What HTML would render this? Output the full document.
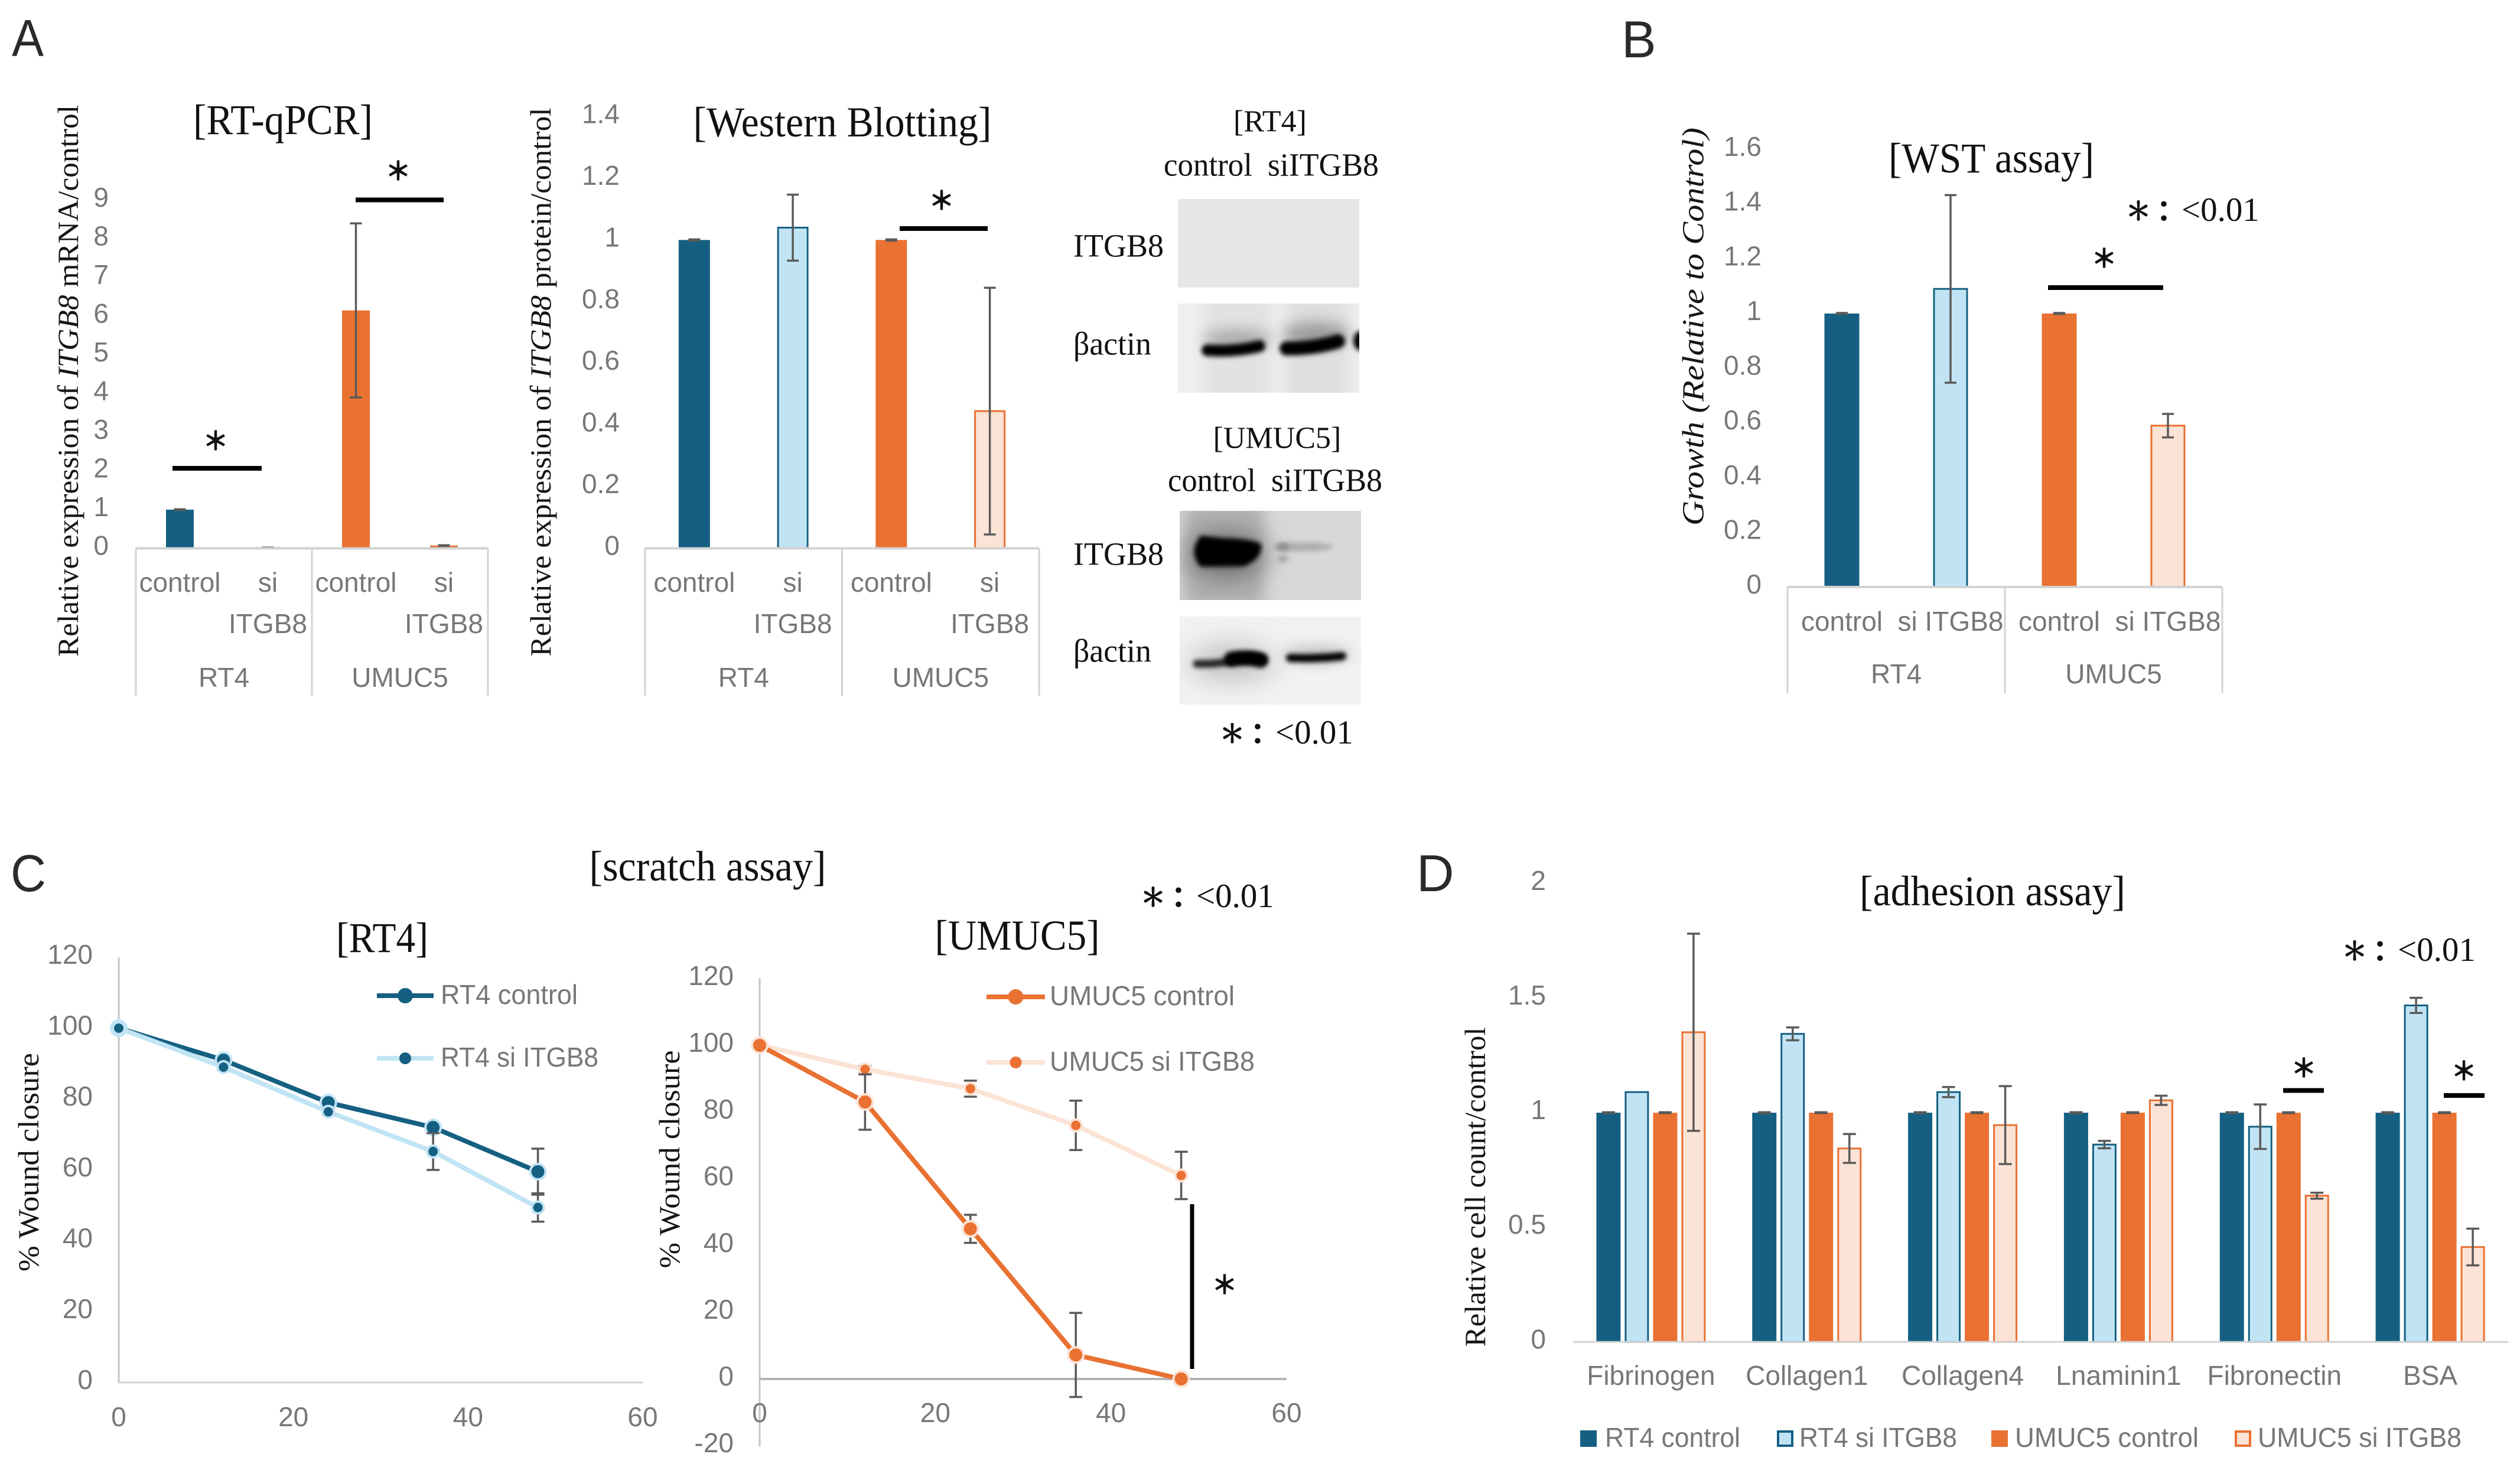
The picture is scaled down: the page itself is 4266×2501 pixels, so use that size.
<!DOCTYPE html>
<html lang="en">
<head>
<meta charset="utf-8">
<title>ITGB8 knockdown figure</title>
<style>
html,body{margin:0;padding:0;background:#fff;width:4266px;height:2501px;overflow:hidden}
svg{display:block}
text{font-family:"Liberation Sans","Noto Sans CJK JP",sans-serif}
.letter{font-family:"Liberation Sans",sans-serif;font-size:88px;fill:#2a2a2a;font-weight:400}
.ylab{font-family:"Liberation Serif",serif;fill:#151515;text-anchor:middle;dominant-baseline:central}
.title{font-family:"Liberation Serif",serif;font-size:72px;fill:#111;text-anchor:middle;dominant-baseline:central}
.blotlab{font-family:"Liberation Serif",serif;font-size:55px;fill:#111;dominant-baseline:central}
.pval{dominant-baseline:central;fill:#111}
.pstar{font-family:"Noto Serif CJK SC",serif;font-size:42px;stroke:#111;stroke-width:2px;text-anchor:middle}
.pcolon{font-family:"Noto Sans CJK JP",sans-serif;font-size:50px;font-weight:700;text-anchor:middle}
.pnum{font-family:"Liberation Serif",serif;font-size:57px;text-anchor:start}
</style>
</head>
<body>
<svg id="fig" xmlns="http://www.w3.org/2000/svg" width="4266" height="2501" viewBox="0 0 4266 2501">
<defs>
<filter id="b3" filterUnits="userSpaceOnUse" x="1900" y="300" width="500" height="950"><feGaussianBlur stdDeviation="4"/></filter>
<filter id="b10" filterUnits="userSpaceOnUse" x="1900" y="300" width="500" height="950"><feGaussianBlur stdDeviation="12"/></filter>
<filter id="b25" filterUnits="userSpaceOnUse" x="1900" y="300" width="500" height="950"><feGaussianBlur stdDeviation="24"/></filter>
<clipPath id="c-act1"><rect x="1994" y="514" width="307" height="151"/></clipPath>
<clipPath id="c-itg2"><rect x="1997" y="865" width="307" height="151"/></clipPath>
<clipPath id="c-act2"><rect x="1997" y="1044" width="307" height="149"/></clipPath>
</defs>

<text class="letter" x="20" y="95" textLength="54" lengthAdjust="spacingAndGlyphs">A</text>
<text class="letter" x="2745" y="97">B</text>
<text class="letter" x="18" y="1509" textLength="60" lengthAdjust="spacingAndGlyphs">C</text>
<text class="letter" x="2398" y="1509">D</text>

<text class="title" x="479" y="203" textLength="304" lengthAdjust="spacingAndGlyphs">[RT-qPCR]</text>
<text class="title" x="1426" y="207" textLength="505" lengthAdjust="spacingAndGlyphs">[Western Blotting]</text>
<text class="title" x="3371" y="268" textLength="348" lengthAdjust="spacingAndGlyphs">[WST assay]</text>
<text class="title" x="1198" y="1467" textLength="401" lengthAdjust="spacingAndGlyphs">[scratch assay]</text>
<text class="title" x="647" y="1588" textLength="156" lengthAdjust="spacingAndGlyphs">[RT4]</text>
<text class="title" x="1722" y="1584" textLength="279" lengthAdjust="spacingAndGlyphs">[UMUC5]</text>
<text class="title" x="3373" y="1509" textLength="450" lengthAdjust="spacingAndGlyphs">[adhesion assay]</text>

<text class="ylab" font-size="50" transform="translate(115 645) rotate(-90)" textLength="934" lengthAdjust="spacingAndGlyphs">Relative expression of <tspan font-style="italic">ITGB8</tspan> mRNA/control</text>
<text class="ylab" font-size="50" transform="translate(915 647) rotate(-90)" textLength="929" lengthAdjust="spacingAndGlyphs">Relative expression of <tspan font-style="italic">ITGB8</tspan> protein/control</text>
<text class="ylab" font-size="52" font-style="italic" transform="translate(2867 553) rotate(-90)" textLength="674" lengthAdjust="spacingAndGlyphs">Growth (Relative to Control)</text>
<text class="ylab" font-size="50" transform="translate(48 1968) rotate(-90)" textLength="370" lengthAdjust="spacingAndGlyphs">% Wound closure</text>
<text class="ylab" font-size="50" transform="translate(1133 1963) rotate(-90)" textLength="369" lengthAdjust="spacingAndGlyphs">% Wound closure</text>
<text class="ylab" font-size="50" transform="translate(2497 2010) rotate(-90)" textLength="541" lengthAdjust="spacingAndGlyphs">Relative cell count/control</text>

<text class="pval" y="1240"><tspan class="pstar" x="2086">＊</tspan><tspan class="pcolon" x="2129">：</tspan><tspan class="pnum" x="2159">&lt;0.01</tspan></text>
<text class="pval" y="355"><tspan class="pstar" x="3620">＊</tspan><tspan class="pcolon" x="3663">：</tspan><tspan class="pnum" x="3693">&lt;0.01</tspan></text>
<text class="pval" y="1517"><tspan class="pstar" x="1952">＊</tspan><tspan class="pcolon" x="1995">：</tspan><tspan class="pnum" x="2025">&lt;0.01</tspan></text>
<text class="pval" y="1608"><tspan class="pstar" x="3986">＊</tspan><tspan class="pcolon" x="4029">：</tspan><tspan class="pnum" x="4059">&lt;0.01</tspan></text>

<g>
  <text class="blotlab" x="2150" y="206" text-anchor="middle" style="font-size:52px">[RT4]</text>
  <text class="blotlab" x="1970" y="279" textLength="150" lengthAdjust="spacingAndGlyphs">control</text>
  <text class="blotlab" x="2146" y="279" textLength="188" lengthAdjust="spacingAndGlyphs">siITGB8</text>
  <text class="blotlab" x="1817" y="416" textLength="153" lengthAdjust="spacingAndGlyphs">ITGB8</text>
  <text class="blotlab" x="1817" y="582" textLength="132" lengthAdjust="spacingAndGlyphs">βactin</text>
  <rect x="1994" y="337" width="307" height="150" fill="#e6e6e6"/>
  <g clip-path="url(#c-act1)">
    <rect x="1994" y="514" width="307" height="151" fill="#efefef"/>
    <rect x="2036" y="500" width="115" height="180" fill="#e2e2e2" filter="url(#b10)"/>
    <rect x="2176" y="500" width="106" height="180" fill="#dedede" filter="url(#b10)"/>
    <ellipse cx="2095" cy="574" rx="58" ry="16" fill="#a8a8a8" filter="url(#b10)"/>
    <ellipse cx="2228" cy="566" rx="56" ry="20" fill="#9a9a9a" filter="url(#b10)"/>
    <path d="M2044 593 Q2090 596 2132 586" stroke="#050505" stroke-width="20" stroke-linecap="round" fill="none" filter="url(#b3)"/>
    <path d="M2178 590 Q2225 590 2265 578" stroke="#050505" stroke-width="24" stroke-linecap="round" fill="none" filter="url(#b3)"/>
    <ellipse cx="2304" cy="577" rx="13" ry="17" fill="#050505" filter="url(#b3)"/>
  </g>
  <text class="blotlab" x="2162" y="742" text-anchor="middle" style="font-size:52px">[UMUC5]</text>
  <text class="blotlab" x="1977" y="813" textLength="149" lengthAdjust="spacingAndGlyphs">control</text>
  <text class="blotlab" x="2152" y="813" textLength="188" lengthAdjust="spacingAndGlyphs">siITGB8</text>
  <text class="blotlab" x="1817" y="938" textLength="153" lengthAdjust="spacingAndGlyphs">ITGB8</text>
  <text class="blotlab" x="1817" y="1102" textLength="132" lengthAdjust="spacingAndGlyphs">βactin</text>
  <g clip-path="url(#c-itg2)">
    <rect x="1997" y="865" width="307" height="151" fill="#d8d8d8"/>
    <rect x="2005" y="850" width="135" height="180" fill="#b2b2b2" filter="url(#b10)"/>
    <ellipse cx="2075" cy="940" rx="66" ry="38" fill="#6a6a6a" filter="url(#b25)"/>
    <path d="M2035 912 Q2018 935 2035 955 L2105 954 Q2132 942 2130 924 Q2115 917 2070 916 Z" fill="#030303" stroke="#030303" stroke-width="10" filter="url(#b3)"/>
    <ellipse cx="2205" cy="926" rx="52" ry="8" fill="#aeaeae" filter="url(#b3)"/>
    <ellipse cx="2172" cy="926" rx="11" ry="7" fill="#909090" filter="url(#b3)"/>
    <ellipse cx="2172" cy="946" rx="9" ry="6" fill="#a4a4a4" filter="url(#b3)"/>
  </g>
  <g clip-path="url(#c-act2)">
    <rect x="1997" y="1044" width="307" height="149" fill="#f2f2f2"/>
    <ellipse cx="2085" cy="1122" rx="72" ry="28" fill="#bcbcbc" filter="url(#b25)"/>
    <ellipse cx="2230" cy="1108" rx="58" ry="14" fill="#c0c0c0" filter="url(#b10)"/>
    <path d="M2026 1124 Q2070 1125 2095 1116 Q2125 1110 2138 1116" stroke="#202020" stroke-width="13" stroke-linecap="round" fill="none" filter="url(#b3)"/>
    <path d="M2085 1116 Q2115 1112 2134 1118" stroke="#030303" stroke-width="26" stroke-linecap="round" fill="none" filter="url(#b3)"/>
    <path d="M2184 1114 Q2230 1116 2272 1111" stroke="#050505" stroke-width="14" stroke-linecap="round" fill="none" filter="url(#b3)"/>
  </g>
</g>
<g id="charts"></g>
</svg>

<script>
// ---------- chart data ----------
const barCategories = ['control', 'si ITGB8', 'control', 'si ITGB8'];
const barGroups = ['RT4', 'UMUC5'];

const qpcrTicks = [0, 1, 2, 3, 4, 5, 6, 7, 8, 9];
const qpcrValues = [1, 0.01, 6.15, 0.05];
const qpcrErrors = [0.01, 0.01, 2.25, 0.03];

const westernTicks = [0, 0.2, 0.4, 0.6, 0.8, 1, 1.2, 1.4];
const westernValues = [1, 1.04, 1, 0.445];
const westernErrors = [0.002, 0.107, 0.002, 0.4];

const wstTicks = [0, 0.2, 0.4, 0.6, 0.8, 1, 1.2, 1.4, 1.6];
const wstValues = [1, 1.09, 1, 0.59];
const wstErrors = [0.002, 0.343, 0.002, 0.043];

const timeTicks = [0, 20, 40, 60];
const timePoints = [0, 12, 24, 36, 48];

const woundTicksRT4 = [0, 20, 40, 60, 80, 100, 120];
const rt4ControlValues = [100, 91, 79, 72, 59.5];
const rt4ControlErrors = [0, 0.8, 0.8, 1.2, 6.5];
const rt4SiValues = [100, 89, 76.4, 65.2, 49.4];
const rt4SiErrors = [0, 0.8, 0.8, 5.2, 4];

const woundTicksUMUC5 = [-20, 0, 20, 40, 60, 80, 100, 120];
const umucControlValues = [100, 83, 45, 7.2, 0];
const umucControlErrors = [0, 8.3, 4.2, 12.6, 0.5];
const umucSiValues = [100, 92.8, 87, 76, 61];
const umucSiErrors = [0, 1, 2.4, 7.4, 7.1];

const adhesionCategories = ['Fibrinogen', 'Collagen1', 'Collagen4', 'Lnaminin1', 'Fibronectin', 'BSA'];
const adhesionTicks = [0, 0.5, 1, 1.5, 2];
const adhesionSeriesNames = ['RT4 control', 'RT4 si ITGB8', 'UMUC5 control', 'UMUC5 si ITGB8'];
const adhesionRT4Control = [1, 1, 1, 1, 1, 1];
const adhesionRT4Si = [1.09, 1.344, 1.09, 0.861, 0.939, 1.468];
const adhesionUMUC5Control = [1, 1, 1, 1, 1, 1];
const adhesionUMUC5Si = [1.351, 0.844, 0.946, 1.054, 0.638, 0.414];
const adhesionRT4ControlErr = [0.002, 0.002, 0.002, 0.002, 0.002, 0.002];
const adhesionRT4SiErr = [0, 0.028, 0.022, 0.016, 0.097, 0.033];
const adhesionUMUC5ControlErr = [0.002, 0.002, 0.002, 0.002, 0.002, 0.002];
const adhesionUMUC5SiErr = [0.43, 0.063, 0.17, 0.02, 0.013, 0.08];

// ---------- drawing helpers ----------
const NS = 'http://www.w3.org/2000/svg';
const root = document.getElementById('charts');
const DARK = '#156082', LIGHT = '#c1e4f5', ORANGE = '#e97132', PEACH = '#fbe3d6';
const FILLS = [DARK, LIGHT, ORANGE, PEACH];
const STROKES = [DARK, DARK, ORANGE, ORANGE];
const TICK = '#777777', AXIS = '#d2d2d2', WHISK = '#5a5a5a';
const TICK_LIFT = 5;

function svgEl(tag, attrs, parent, text) {
  const e = document.createElementNS(NS, tag);
  for (const k in attrs) e.setAttribute(k, attrs[k]);
  if (text !== undefined) e.textContent = text;
  parent.appendChild(e);
  return e;
}
function linear(d0, d1, p0, p1) {
  return v => p0 + (v - d0) * (p1 - p0) / (d1 - d0);
}
function band(x0, x1, n) {
  const w = (x1 - x0) / n;
  return i => x0 + w * (i + 0.5);
}
function newGroup(name) {
  const g = svgEl('g', {}, root);
  
  
  return g;
}
function tickText(g, prefix, x, y, anchor, label) {
  const t = svgEl('text', {x: x, y: y, 'text-anchor': anchor, 'dominant-baseline': 'central', 'font-size': 46, fill: TICK}, g, String(label));
  
  
  return t;
}
function whisker(g, name, x, yTop, yBot, cap) {
  const s = svgEl('path', {d: 'M' + (x - cap) + ' ' + yTop + 'H' + (x + cap) + 'M' + x + ' ' + yTop + 'V' + yBot + 'M' + (x - cap) + ' ' + yBot + 'H' + (x + cap), stroke: WHISK, 'stroke-width': 3.5, fill: 'none'}, g);
  
  
}
function asterisk(g, name, ax, ay) {
  const a = svgEl('text', {x: ax, y: ay, 'text-anchor': 'middle', 'dominant-baseline': 'central', 'font-size': 42, fill: '#111', stroke: '#111', 'stroke-width': 2, 'font-family': '"Noto Serif CJK SC",serif'}, g, '＊');
  
  
}
function sigMark(g, name, x1, x2, y, ax, ay) {
  const l = svgEl('rect', {x: Math.min(x1, x2), y: y - 4, width: Math.abs(x2 - x1), height: 8, fill: '#000'}, g);
  
  
  asterisk(g, name + '-asterisk', ax, ay);
}

function drawBarChart(name, values, errors, ticks, box) {
  const g = newGroup(name + '-chart');
  const y = linear(ticks[0], ticks[ticks.length - 1], box.y0, box.y1);
  const x = band(box.x0, box.x1, values.length);
  ticks.forEach(t => tickText(g, name + '-y', box.tickX, y(t) - TICK_LIFT, 'end', t));
  values.forEach((v, i) => {
    const inset = FILLS[i] === LIGHT || FILLS[i] === PEACH ? 1.5 : 0;
    const r = svgEl('rect', {x: x(i) - box.bw / 2 + inset, y: y(v), width: box.bw - 2 * inset, height: Math.max(0, y(0) - y(v)), fill: FILLS[i], stroke: inset ? STROKES[i] : 'none', 'stroke-width': 3}, g);
    
    
  });
  errors.forEach((e, i) => whisker(g, name + '-error-' + i, x(i), y(values[i] + e), y(Math.max(0, values[i] - e)), 10));
  const ax = svgEl('path', {d: 'M' + box.x0 + ' ' + y(0) + 'H' + box.x1, stroke: AXIS, 'stroke-width': 4, fill: 'none'}, g);
  
  
  barCategories.forEach((c, i) => {
    if (box.wrap && c.indexOf(' ') > 0) {
      const parts = c.split(' ');
      tickText(g, name + '-x-upper', x(i), box.labelY, 'middle', parts[0]);
      tickText(g, name + '-x-lower', x(i), box.labelY2, 'middle', parts[1]);
    } else {
      tickText(g, name + '-x-' + i, x(i), box.labelY, 'middle', c);
    }
  });
  const step = (box.x1 - box.x0) / 2;
  barGroups.forEach((c, i) => tickText(g, name + '-group', box.x0 + step * (i + 0.5), box.groupY, 'middle', c));
  [0, 1, 2].forEach(i => {
    const d = svgEl('path', {d: 'M' + (box.x0 + step * i) + ' ' + y(0) + 'V' + box.bottom, stroke: AXIS, 'stroke-width': 3, fill: 'none'}, g);
    
    
  });
  return g;
}

function drawLineSeries(g, name, xs, ys, errs, x, y, st) {
  const path = svgEl('polyline', {points: xs.map((t, i) => x(t) + ',' + y(ys[i])).join(' '), fill: 'none', stroke: st.line, 'stroke-width': st.width, 'stroke-linejoin': 'round'}, g);
  
  
  errs.forEach((e, i) => {
    if (e > 0) whisker(g, name + '-error-' + i, x(xs[i]), y(ys[i] + e), y(ys[i] - e), 11);
  });
  xs.forEach((t, i) => {
    const c = svgEl('circle', {cx: x(t), cy: y(ys[i]), r: st.r, fill: st.marker, stroke: st.halo, 'stroke-width': 4}, g);
    
    
  });
}
function lineLegend(g, name, label, x0, x1, yc, tx, tw, st) {
  const l = svgEl('line', {x1: x0, x2: x1, y1: yc, y2: yc, stroke: st.line, 'stroke-width': st.width}, g);
  
  
  const c = svgEl('circle', {cx: (x0 + x1) / 2, cy: yc, r: st.r, fill: st.marker}, g);
  
  
  const t = svgEl('text', {x: tx, y: yc - 2, 'dominant-baseline': 'central', 'font-size': 46, fill: TICK, textLength: tw, lengthAdjust: 'spacingAndGlyphs'}, g, label);
  
  
}
function lineAxes(g, name, xTicks, yTicks, x, y, box) {
  const yA = svgEl('line', {x1: x(0), x2: x(0), y1: box.yTop, y2: box.yBottom, stroke: '#c4c4c4', 'stroke-width': 3}, g);
  
  
  const xA = svgEl('line', {x1: x(0), x2: x(xTicks[xTicks.length - 1]), y1: y(0), y2: y(0), stroke: box.xColor, 'stroke-width': box.xWidth}, g);
  
  
  yTicks.forEach(t => tickText(g, name + '-y', box.tickX, y(t) - TICK_LIFT, 'end', t));
  xTicks.forEach(t => tickText(g, name + '-x', x(t), box.labelY, 'middle', t));
}

// ---------- panel A / B bar charts ----------
const gQ = drawBarChart('qpcr', qpcrValues, qpcrErrors, qpcrTicks, {x0: 230, x1: 826, y0: 928.5, y1: 339, bw: 47, tickX: 184, labelY: 986, labelY2: 1056, groupY: 1147, bottom: 1178, wrap: true});
sigMark(gQ, 'qpcr-sig-rt4', 292, 443, 793, 365, 747);
sigMark(gQ, 'qpcr-sig-umuc5', 602, 751, 338.5, 674, 290);

const gW = drawBarChart('western', westernValues, westernErrors, westernTicks, {x0: 1092, x1: 1759, y0: 928.5, y1: 197.5, bw: 53, tickX: 1049, labelY: 986, labelY2: 1056, groupY: 1147, bottom: 1178, wrap: true});
sigMark(gW, 'western-sig-umuc5', 1523, 1672, 387, 1594, 340);

const gB = drawBarChart('wst', wstValues, wstErrors, wstTicks, {x0: 3026, x1: 3762, y0: 994, y1: 253, bw: 59, tickX: 2982, labelY: 1052, labelY2: 1052, groupY: 1141, bottom: 1174, wrap: false});
sigMark(gB, 'wst-sig-umuc5', 3467, 3662, 487, 3562, 438);

// ---------- panel C line charts ----------
const gC1 = newGroup('scratch-rt4-chart');
const xC1 = linear(0, 60, 201, 1088);
const yC1 = linear(0, 120, 2341, 1621);
const rt4CtlStyle = {line: DARK, width: 8, r: 13, marker: DARK, halo: LIGHT};
const rt4SiStyle = {line: LIGHT, width: 8, r: 10, marker: DARK, halo: LIGHT};
lineAxes(gC1, 'scratch-rt4', timeTicks, woundTicksRT4, xC1, yC1, {yTop: 1621, yBottom: 2341, tickX: 157, labelY: 2399, xColor: AXIS, xWidth: 3});
drawLineSeries(gC1, 'rt4-control', timePoints, rt4ControlValues, rt4ControlErrors, xC1, yC1, rt4CtlStyle);
drawLineSeries(gC1, 'rt4-si-itgb8', timePoints, rt4SiValues, rt4SiErrors, xC1, yC1, rt4SiStyle);
lineLegend(gC1, 'rt4-control', 'RT4 control', 638, 734, 1686, 746, 232, rt4CtlStyle);
lineLegend(gC1, 'rt4-si-itgb8', 'RT4 si ITGB8', 638, 734, 1792, 746, 267, rt4SiStyle);

const gC2 = newGroup('scratch-umuc5-chart');
const xC2 = linear(0, 60, 1286, 2178);
const yC2 = linear(-20, 120, 2448, 1657);
const umCtlStyle = {line: ORANGE, width: 8, r: 13, marker: ORANGE, halo: PEACH};
const umSiStyle = {line: PEACH, width: 8, r: 10, marker: ORANGE, halo: PEACH};
lineAxes(gC2, 'scratch-umuc5', timeTicks, woundTicksUMUC5, xC2, yC2, {yTop: 1656, yBottom: 2449, tickX: 1242, labelY: 2392, xColor: '#b4b4b4', xWidth: 4});
drawLineSeries(gC2, 'umuc5-si-itgb8', timePoints, umucSiValues, umucSiErrors, xC2, yC2, umSiStyle);
drawLineSeries(gC2, 'umuc5-control', timePoints, umucControlValues, umucControlErrors, xC2, yC2, umCtlStyle);
lineLegend(gC2, 'umuc5-control', 'UMUC5 control', 1670, 1769, 1688, 1777, 313, umCtlStyle);
lineLegend(gC2, 'umuc5-si-itgb8', 'UMUC5 si ITGB8', 1670, 1769, 1799, 1777, 347, umSiStyle);
const sigV = svgEl('line', {x1: 2018, x2: 2018, y1: 2039, y2: 2318, stroke: '#000', 'stroke-width': 7}, gC2);


asterisk(gC2, 'scratch-sig-asterisk', 2073, 2176);

// ---------- panel D grouped bars ----------
const gD = newGroup('adhesion-chart');
const yD = linear(0, 2, 2272.3, 1496);
const xD = band(2663, 4246, adhesionCategories.length);
const dSeries = [adhesionRT4Control, adhesionRT4Si, adhesionUMUC5Control, adhesionUMUC5Si];
const dErrors = [adhesionRT4ControlErr, adhesionRT4SiErr, adhesionUMUC5ControlErr, adhesionUMUC5SiErr];
const barStep = 48, barW = 41;
adhesionTicks.forEach(t => tickText(gD, 'adhesion-y', 2617, yD(t) - TICK_LIFT, 'end', t));
adhesionCategories.forEach((c, i) => {
  tickText(gD, 'adhesion-x', xD(i), 2329, 'middle', c);
  dSeries.forEach((s, k) => {
    const cx = xD(i) + (k - 1.5) * barStep;
    const inset = k % 2 ? 1.5 : 0;
    const r = svgEl('rect', {x: cx - barW / 2 + inset, y: yD(s[i]), width: barW - 2 * inset, height: yD(0) - yD(s[i]), fill: FILLS[k], stroke: inset ? STROKES[k] : 'none', 'stroke-width': 3}, gD);
    
    
    if (dErrors[k][i] > 0) {
      whisker(gD, 'adhesion-error-' + c.toLowerCase() + '-' + k, cx, yD(s[i] + dErrors[k][i]), yD(s[i] - dErrors[k][i]), 11);
    }
  });
});
const axD = svgEl('line', {x1: 2663, x2: 4246, y1: yD(0), y2: yD(0), stroke: AXIS, 'stroke-width': 3}, gD);


sigMark(gD, 'adhesion-sig-fibronectin', 3865, 3934, 1846.5, 3900, 1809);
sigMark(gD, 'adhesion-sig-bsa', 4137, 4206, 1855, 4171, 1814);

// legend for panel D: [swatch left, label left, label width] is layout, names come from the data array
const dLegendLayout = [[2675, 2717, 229], [3008, 3046, 267], [3371, 3411, 311], [3783, 3822, 345]];
adhesionSeriesNames.forEach((n, k) => {
  const lay = dLegendLayout[k];
  const inset = k % 2 ? 2 : 0;
  const sw = svgEl('rect', {x: lay[0] + inset, y: 2422 + inset, width: 28 - 2 * inset, height: 28 - 2 * inset, fill: FILLS[k], stroke: inset ? STROKES[k] : 'none', 'stroke-width': 4}, gD);
  
  
  const t = svgEl('text', {x: lay[1], y: 2434, 'dominant-baseline': 'central', 'font-size': 46, fill: TICK, textLength: lay[2], lengthAdjust: 'spacingAndGlyphs'}, gD, n);
  
  
});
</script>
</body>
</html>
